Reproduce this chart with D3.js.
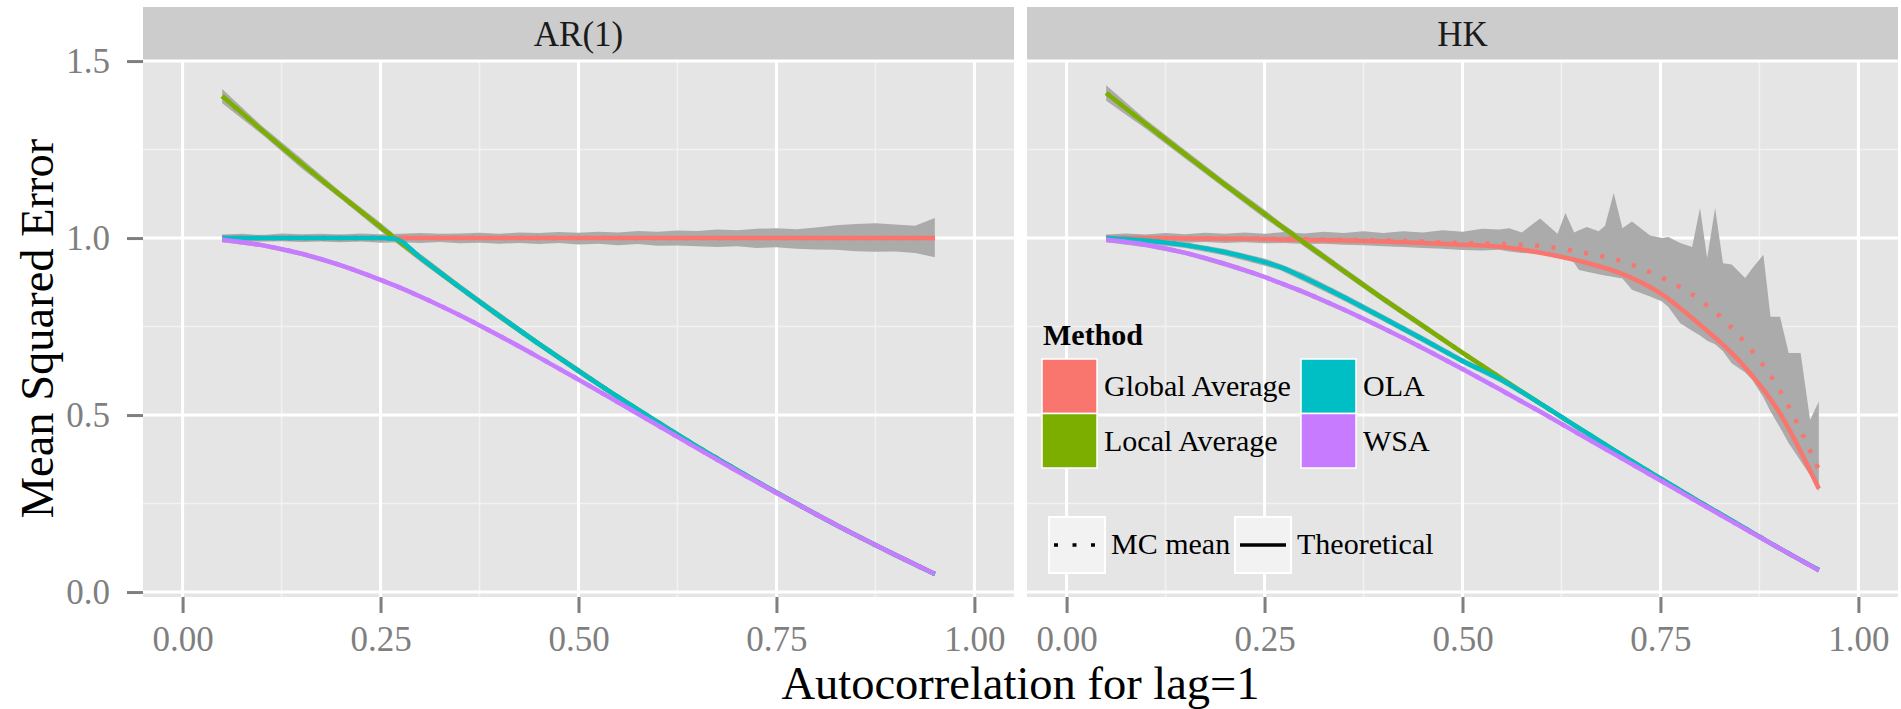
<!DOCTYPE html>
<html>
<head>
<meta charset="utf-8">
<script src="https://d3js.org/d3.v7.min.js"></script>
<style>
    body { margin: 0; background: #ffffff; }
    svg { display: block; }
    text { font-family: "Liberation Serif", "Times New Roman", serif; }
</style>
</head>
<body>
<svg id="drawing_region"></svg>
<script>
// autocorrelation values used for every curve
const rho = [0.05, 0.10, 0.15, 0.20, 0.25, 0.27, 0.30, 0.35, 0.40, 0.45, 0.50, 0.55, 0.60, 0.65, 0.70, 0.75, 0.80, 0.85, 0.90, 0.95];

const methods = ['Global Average', 'Local Average', 'OLA', 'WSA'];
const methodColors = ['#F8766D', '#7CAE00', '#00BFC4', '#C77CFF'];
const panelNames = ['AR(1)', 'HK'];
const lineTypes = ['MC mean', 'Theoretical'];
const xTicks = [0, 0.25, 0.5, 0.75, 1];
const xMinor = [0.125, 0.375, 0.625, 0.875];
const yTicks = [0, 0.5, 1, 1.5];
const yMinor = [0.25, 0.75, 1.25];

// AR(1) panel, theoretical MSE
const ar1Global = [1.000, 1.000, 1.000, 1.000, 1.000, 1.000, 1.000, 1.000, 1.000, 1.000, 1.000, 1.000, 1.000, 1.000, 1.000, 1.000, 1.000, 1.000, 1.000, 1.000];
const ar1Local  = [1.401, 1.305, 1.211, 1.120, 1.031, 0.996, 0.945, 0.861, 0.780, 0.701, 0.625, 0.551, 0.480, 0.411, 0.345, 0.281, 0.220, 0.161, 0.105, 0.051];
const ar1Ola    = [1.000, 1.000, 1.000, 1.000, 1.000, 0.997, 0.945, 0.861, 0.780, 0.701, 0.625, 0.551, 0.480, 0.411, 0.345, 0.281, 0.220, 0.161, 0.105, 0.051];
const ar1Wsa    = [0.995, 0.980, 0.956, 0.923, 0.882, 0.864, 0.835, 0.782, 0.724, 0.663, 0.600, 0.536, 0.471, 0.406, 0.342, 0.280, 0.220, 0.161, 0.105, 0.051];

// HK panel, theoretical MSE and MC mean of global average
const hkGlobal   = [1.000, 1.000, 0.999, 0.998, 0.997, 0.996, 0.995, 0.993, 0.990, 0.986, 0.981, 0.975, 0.958, 0.934, 0.900, 0.844, 0.755, 0.652, 0.508, 0.292];
const hkGlobalMc = [1.001, 1.000, 1.000, 0.999, 0.998, 0.998, 0.997, 0.995, 0.993, 0.990, 0.986, 0.983, 0.977, 0.960, 0.935, 0.890, 0.825, 0.722, 0.572, 0.346];
const hkLocal    = [1.410, 1.322, 1.236, 1.151, 1.068, 1.035, 0.987, 0.907, 0.828, 0.752, 0.676, 0.602, 0.530, 0.459, 0.389, 0.321, 0.254, 0.189, 0.124, 0.062];
const hkOla      = [1.000, 0.993, 0.980, 0.960, 0.932, 0.918, 0.888, 0.833, 0.774, 0.714, 0.653, 0.598, 0.530, 0.459, 0.389, 0.321, 0.254, 0.189, 0.124, 0.062];
const hkWsa      = [0.995, 0.981, 0.958, 0.927, 0.890, 0.873, 0.847, 0.798, 0.745, 0.689, 0.630, 0.569, 0.507, 0.443, 0.379, 0.315, 0.251, 0.187, 0.124, 0.061];

// half width of the Monte Carlo band
const ar1LocalSpread = [0.020, 0.012, 0.014, 0.010, 0.012, 0.010, 0.011, 0.009, 0.010, 0.008, 0.009, 0.007, 0.008, 0.006, 0.007, 0.006, 0.006, 0.005, 0.005, 0.005];
const ar1OlaSpread   = [0.008, 0.009, 0.007, 0.009, 0.008, 0.009, 0.010, 0.009, 0.008, 0.008, 0.007, 0.007, 0.006, 0.006, 0.006, 0.005, 0.005, 0.005, 0.004, 0.004];
const ar1WsaSpread   = [0.007, 0.006, 0.007, 0.006, 0.006, 0.006, 0.006, 0.005, 0.006, 0.005, 0.005, 0.005, 0.005, 0.004, 0.004, 0.004, 0.004, 0.004, 0.003, 0.003];
const hkLocalSpread  = [0.022, 0.013, 0.012, 0.011, 0.012, 0.010, 0.011, 0.010, 0.009, 0.009, 0.008, 0.008, 0.007, 0.007, 0.006, 0.006, 0.006, 0.005, 0.005, 0.005];
const hkOlaSpread    = [0.008, 0.009, 0.008, 0.009, 0.010, 0.009, 0.011, 0.010, 0.009, 0.009, 0.008, 0.008, 0.007, 0.007, 0.006, 0.006, 0.005, 0.005, 0.005, 0.004];
const hkWsaSpread    = [0.007, 0.007, 0.006, 0.007, 0.006, 0.006, 0.007, 0.006, 0.006, 0.005, 0.005, 0.005, 0.005, 0.005, 0.004, 0.004, 0.004, 0.004, 0.003, 0.003];

// Monte Carlo band of the global average: [rho, low, high]
const ar1GlobalBand = [
    [0.050, 0.990, 1.010], [0.075, 0.992, 1.012], [0.100, 0.990, 1.008], [0.125, 0.991, 1.013],
    [0.150, 0.989, 1.011], [0.175, 0.990, 1.012], [0.200, 0.988, 1.010], [0.225, 0.990, 1.013],
    [0.250, 0.987, 1.011], [0.275, 0.988, 1.012], [0.300, 0.986, 1.014], [0.325, 0.989, 1.012],
    [0.350, 0.985, 1.013], [0.375, 0.987, 1.015], [0.400, 0.984, 1.012], [0.425, 0.986, 1.016],
    [0.450, 0.983, 1.014], [0.475, 0.986, 1.017], [0.500, 0.982, 1.015], [0.525, 0.984, 1.018],
    [0.550, 0.980, 1.016], [0.575, 0.983, 1.020], [0.600, 0.978, 1.018], [0.625, 0.979, 1.021],
    [0.650, 0.977, 1.020], [0.675, 0.975, 1.024], [0.700, 0.977, 1.022], [0.725, 0.972, 1.026],
    [0.750, 0.974, 1.028], [0.775, 0.970, 1.025], [0.800, 0.968, 1.030], [0.825, 0.967, 1.036],
    [0.850, 0.963, 1.040], [0.875, 0.961, 1.042], [0.900, 0.962, 1.038], [0.925, 0.958, 1.035],
    [0.950, 0.946, 1.057]
];
const hkGlobalBand = [
    [0.050, 0.990, 1.010], [0.075, 0.991, 1.013], [0.100, 0.989, 1.010], [0.125, 0.990, 1.014],
    [0.150, 0.987, 1.011], [0.175, 0.989, 1.015], [0.200, 0.986, 1.012], [0.225, 0.988, 1.016],
    [0.250, 0.985, 1.012], [0.275, 0.986, 1.017], [0.300, 0.983, 1.013], [0.325, 0.984, 1.018],
    [0.350, 0.981, 1.014], [0.375, 0.980, 1.019], [0.400, 0.977, 1.014], [0.425, 0.975, 1.019],
    [0.450, 0.972, 1.016], [0.475, 0.970, 1.022], [0.500, 0.966, 1.018], [0.525, 0.965, 1.026],
    [0.546, 0.967, 1.024], [0.559, 0.962, 1.028], [0.575, 0.958, 1.016], [0.598, 0.955, 1.055],
    [0.620, 0.950, 1.012], [0.630, 0.948, 1.071], [0.641, 0.930, 1.016], [0.647, 0.910, 1.022],
    [0.657, 0.905, 1.031], [0.672, 0.898, 1.019], [0.680, 0.894, 1.035], [0.691, 0.890, 1.127],
    [0.702, 0.886, 1.028], [0.714, 0.854, 1.047], [0.737, 0.835, 1.007], [0.752, 0.821, 1.000],
    [0.760, 0.805, 1.003], [0.775, 0.759, 0.986], [0.790, 0.738, 0.975], [0.800, 0.725, 1.085],
    [0.809, 0.710, 0.943], [0.819, 0.700, 1.085], [0.829, 0.680, 0.929], [0.840, 0.646, 0.925],
    [0.857, 0.620, 0.887], [0.866, 0.599, 0.915], [0.880, 0.550, 0.953], [0.889, 0.510, 0.778],
    [0.901, 0.465, 0.778], [0.912, 0.420, 0.675], [0.927, 0.370, 0.675], [0.939, 0.330, 0.486],
    [0.950, 0.285, 0.538]
];

const panels = [
    { name: panelNames[0], theo: [ar1Global, ar1Local, ar1Ola, ar1Wsa], mc: [ar1Global, ar1Local, ar1Ola, ar1Wsa],
      spread: [null, ar1LocalSpread, ar1OlaSpread, ar1WsaSpread], globalBand: ar1GlobalBand },
    { name: panelNames[1], theo: [hkGlobal, hkLocal, hkOla, hkWsa], mc: [hkGlobalMc, hkLocal, hkOla, hkWsa],
      spread: [null, hkLocalSpread, hkOlaSpread, hkWsaSpread], globalBand: hkGlobalBand }
];

const config = {
    width: 1901,
    height: 709,
    panelLeft: [143, 1027],
    panelWidth: 871,
    panelTop: 60,
    panelHeight: 537,
    stripTop: 7,
    xdomain: [-0.05, 1.05],
    ydomain: [-0.014, 1.503]
};

const svg = d3.select('#drawing_region')
    .attr('width', config.width)
    .attr('height', config.height);

const yscale = d3.scaleLinear()
    .domain(config.ydomain)
    .range([config.panelTop + config.panelHeight, config.panelTop]);

panels.forEach((panel, p) => {
    const left = config.panelLeft[p];
    const xscale = d3.scaleLinear()
        .domain(config.xdomain)
        .range([left, left + config.panelWidth]);

    const g = svg.append('g');

    // strip
    g.append('rect')
        .attr('x', left).attr('y', config.stripTop)
        .attr('width', config.panelWidth)
        .attr('height', config.panelTop - config.stripTop)
        .attr('fill', '#cccccc');
    g.append('text')
        .attr('x', left + config.panelWidth / 2)
        .attr('y', (config.stripTop + config.panelTop) / 2 + 12)
        .attr('text-anchor', 'middle')
        .attr('font-size', '35px')
        .attr('fill', '#1a1a1a')
        .text(panel.name);

    // background + grid
    g.append('rect')
        .attr('x', left).attr('y', config.panelTop)
        .attr('width', config.panelWidth).attr('height', config.panelHeight)
        .attr('fill', '#e5e5e5');

    g.selectAll('.vminor').data(xMinor).join('line')
        .attr('x1', d => xscale(d)).attr('x2', d => xscale(d))
        .attr('y1', config.panelTop).attr('y2', config.panelTop + config.panelHeight)
        .attr('stroke', '#f2f2f2').attr('stroke-width', 1.5);
    g.selectAll('.hminor').data(yMinor).join('line')
        .attr('x1', left).attr('x2', left + config.panelWidth)
        .attr('y1', d => yscale(d)).attr('y2', d => yscale(d))
        .attr('stroke', '#f2f2f2').attr('stroke-width', 1.5);
    g.selectAll('.vmajor').data(xTicks).join('line')
        .attr('x1', d => xscale(d)).attr('x2', d => xscale(d))
        .attr('y1', config.panelTop).attr('y2', config.panelTop + config.panelHeight)
        .attr('stroke', '#ffffff').attr('stroke-width', 3);
    g.selectAll('.hmajor').data(yTicks).join('line')
        .attr('x1', left).attr('x2', left + config.panelWidth)
        .attr('y1', d => yscale(d)).attr('y2', d => yscale(d))
        .attr('stroke', '#ffffff').attr('stroke-width', 3);

    // Monte Carlo bands
    const area = d3.area()
        .x(d => xscale(d[0]))
        .y0(d => yscale(d[1]))
        .y1(d => yscale(d[2]));

    const bands = [panel.globalBand];
    for (let m = 1; m < methods.length; m++) {
        bands.push(rho.map((r, i) => [r, panel.theo[m][i] - panel.spread[m][i], panel.theo[m][i] + panel.spread[m][i]]));
    }
    g.selectAll('.band').data(bands).join('path')
        .attr('d', area)
        .attr('fill', '#ababab');

    // lines
    const line = d3.line()
        .x((d, i) => xscale(rho[i]))
        .y(d => yscale(d))
        .curve(d3.curveMonotoneX);

    methods.forEach((m, k) => {
        g.append('path')
            .attr('d', line(panel.mc[k]))
            .attr('fill', 'none')
            .attr('stroke', methodColors[k])
            .attr('stroke-width', 4.5)
            .attr('stroke-dasharray', '4,12.5');
        g.append('path')
            .attr('d', line(panel.theo[k]))
            .attr('fill', 'none')
            .attr('stroke', methodColors[k])
            .attr('stroke-width', 4.5);
    });

    // axes
    const xaxis = d3.axisBottom(xscale)
        .tickValues(xTicks)
        .tickSize(16)
        .tickPadding(13)
        .tickFormat(d3.format('.2f'));
    const xaxis_group = g.append('g')
        .attr('transform', `translate(0, ${config.panelTop + config.panelHeight})`)
        .call(xaxis);
    xaxis_group.select('.domain').remove();
    xaxis_group.selectAll('line').attr('stroke', '#7f7f7f').attr('stroke-width', 3);
    xaxis_group.selectAll('text')
        .attr('fill', '#7f7f7f')
        .style('font-size', '35px')
        .style('font-family', '"Liberation Serif", "Times New Roman", serif');

    if (p === 0) {
        const yaxis = d3.axisLeft(yscale)
            .tickValues(yTicks)
            .tickSize(16)
            .tickPadding(17)
            .tickFormat(d3.format('.1f'));
        const yaxis_group = g.append('g')
            .attr('transform', `translate(${left}, 0)`)
            .call(yaxis);
        yaxis_group.select('.domain').remove();
        yaxis_group.selectAll('line').attr('stroke', '#7f7f7f').attr('stroke-width', 3);
        yaxis_group.selectAll('text')
            .attr('fill', '#7f7f7f')
            .style('font-size', '35px')
            .style('font-family', '"Liberation Serif", "Times New Roman", serif');
    }
});

// axis titles
svg.append('text')
    .attr('x', (config.panelLeft[0] + config.panelLeft[1] + config.panelWidth) / 2)
    .attr('y', 699)
    .attr('text-anchor', 'middle')
    .attr('font-size', '46.5px')
    .text('Autocorrelation for lag=1');

svg.append('text')
    .attr('transform', `translate(53, ${config.panelTop + config.panelHeight / 2}) rotate(-90)`)
    .attr('text-anchor', 'middle')
    .attr('font-size', '46.5px')
    .text('Mean Squared Error');

// legend for methods (two columns)
const legend = svg.append('g').attr('font-size', '30px');
legend.append('text')
    .attr('x', 1043).attr('y', 345)
    .attr('font-weight', 'bold')
    .text('Method');

const keyX = [1042, 1042, 1301, 1301];
const keyY = [359, 413.5, 359, 413.5];
methods.forEach((m, k) => {
    legend.append('rect')
        .attr('x', keyX[k]).attr('y', keyY[k])
        .attr('width', 55).attr('height', 54.5)
        .attr('fill', methodColors[k])
        .attr('stroke', '#ffffff').attr('stroke-width', 1.5);
    legend.append('text')
        .attr('x', keyX[k] + 62).attr('y', keyY[k] + 37)
        .text(m);
});

// legend for line types
const ltX = [1049, 1235];
lineTypes.forEach((t, k) => {
    legend.append('rect')
        .attr('x', ltX[k]).attr('y', 517)
        .attr('width', 56).attr('height', 56)
        .attr('fill', '#f2f2f2')
        .attr('stroke', '#ffffff').attr('stroke-width', 2);
    const l = legend.append('line')
        .attr('x1', ltX[k] + 5).attr('x2', ltX[k] + 51)
        .attr('y1', 545).attr('y2', 545)
        .attr('stroke', '#000000').attr('stroke-width', 3.5);
    if (k === 0) l.attr('stroke-dasharray', '4,14.5');
    legend.append('text')
        .attr('x', ltX[k] + 62).attr('y', 554)
        .text(t);
});
</script>
</body>
</html>
